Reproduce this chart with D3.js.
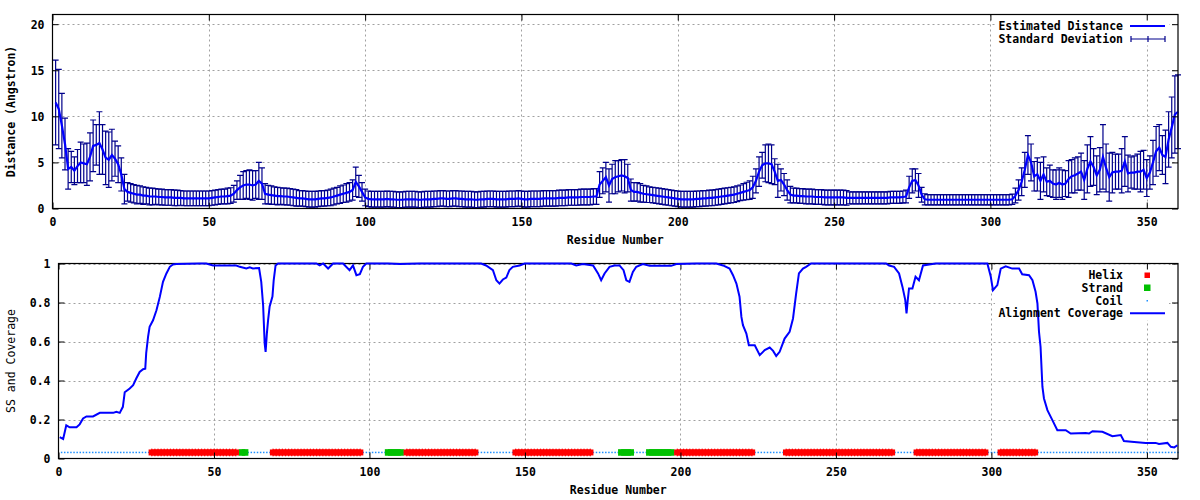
<!DOCTYPE html>
<html><head><meta charset="utf-8">
<script src="https://cdn.jsdelivr.net/npm/d3@7"></script>
<style>
body{margin:0;background:#fff}
svg{display:block}
text{font-family:"DejaVu Sans Mono","Liberation Mono",monospace;font-size:11.5px;font-weight:bold;fill:#000}
</style>
</head><body>
<svg id="c" width="1200" height="500"></svg>
<script>
// ---------- DATA ----------
const distance = [
11.5,10.8,9.0,7.0,4.3,4.5,4.1,4.6,5.0,4.9,
4.8,5.6,6.8,6.9,7.1,6.4,5.5,5.3,5.8,5.4,
4.8,3.7,2.1,1.8,1.7,1.6,1.5,1.5,1.4,1.4,
1.3,1.3,1.3,1.25,1.25,1.2,1.2,1.2,1.15,1.15,
1.15,1.1,1.1,1.1,1.1,1.1,1.1,1.1,1.1,1.1,
1.15,1.2,1.25,1.3,1.3,1.35,1.4,1.6,2.0,2.3,
2.5,2.6,2.6,2.5,2.6,3.0,2.7,1.6,1.5,1.45,
1.4,1.35,1.35,1.3,1.3,1.25,1.2,1.15,1.1,1.1,
1.05,1.0,1.0,1.0,1.05,1.1,1.1,1.15,1.2,1.3,
1.4,1.5,1.6,1.7,1.8,2.0,2.9,2.4,1.8,1.2,
1.05,1.0,1.0,1.0,1.0,1.0,1.05,1.0,1.0,0.95,
0.95,0.95,1.0,1.0,1.0,1.0,0.95,0.95,1.0,1.0,
1.0,1.05,1.05,1.1,1.1,1.05,1.05,1.1,1.1,1.05,
1.05,1.0,1.0,1.0,0.95,0.95,1.0,1.0,1.05,1.05,
1.05,1.0,1.0,1.0,1.0,1.05,1.05,1.05,1.1,1.05,
1.0,1.0,1.05,1.05,1.05,1.05,1.1,1.1,1.1,1.1,
1.1,1.15,1.15,1.15,1.2,1.2,1.2,1.2,1.25,1.25,
1.25,1.25,1.3,1.3,2.6,3.0,3.4,2.5,3.2,3.4,
3.5,3.6,3.5,3.3,2.0,1.8,1.8,1.7,1.6,1.55,
1.5,1.45,1.4,1.35,1.3,1.25,1.2,1.15,1.1,1.05,
1.0,1.0,1.0,1.0,1.0,1.05,1.05,1.1,1.1,1.15,
1.15,1.2,1.25,1.3,1.35,1.4,1.45,1.5,1.6,1.7,
1.8,1.9,2.0,2.3,3.0,4.0,4.7,4.9,4.9,4.8,
4.0,3.0,3.1,2.6,2.0,1.5,1.4,1.4,1.35,1.35,
1.3,1.3,1.3,1.25,1.25,1.25,1.2,1.2,1.2,1.2,
1.2,1.2,1.2,1.15,1.15,1.15,1.15,1.15,1.15,1.15,
1.15,1.15,1.15,1.15,1.15,1.15,1.15,1.2,1.2,1.2,
1.2,1.25,1.3,2.3,3.0,3.1,2.5,1.5,1.0,0.95,
0.95,0.95,0.95,0.95,0.95,0.95,0.95,0.95,0.95,0.95,
0.95,0.95,0.95,0.95,0.95,0.95,0.95,0.95,0.95,0.95,
0.95,0.95,0.95,0.95,0.95,0.95,1.0,1.4,2.0,2.9,
4.2,5.8,5.0,3.5,3.7,3.0,3.7,2.9,3.0,2.7,
2.6,2.8,2.6,2.7,3.2,3.5,3.6,3.8,4.0,3.1,
4.3,5.1,4.5,3.6,4.2,5.6,4.4,3.4,3.9,4.0,
4.0,4.1,5.1,3.8,3.9,3.9,4.0,4.0,4.2,3.3,
3.9,5.0,6.2,6.6,5.8,5.6,7.5,8.8,10.2,10.5
];
const stdDev = [
4.6,4.3,3.5,2.8,2.2,1.7,1.5,1.8,2.2,2.1,
2.3,2.6,2.8,2.2,3.4,2.7,2.9,3.0,2.8,1.9,
2.0,1.8,1.6,1.0,1.0,1.0,1.0,0.95,0.95,0.9,
0.9,0.9,0.85,0.85,0.85,0.85,0.85,0.85,0.85,0.85,
0.8,0.8,0.8,0.8,0.8,0.8,0.8,0.8,0.8,0.8,
0.8,0.8,0.8,0.8,0.8,0.85,0.85,0.9,1.0,1.3,
1.5,1.5,1.6,1.6,1.5,2.0,1.7,1.1,1.0,1.0,
0.95,0.95,0.9,0.9,0.9,0.9,0.9,0.9,0.85,0.85,
0.85,0.85,0.85,0.85,0.85,0.85,0.85,0.85,0.9,0.9,
0.9,0.95,0.95,1.0,1.0,1.1,1.6,1.2,1.0,0.9,
0.85,0.85,0.85,0.85,0.85,0.85,0.85,0.85,0.85,0.85,
0.85,0.85,0.85,0.85,0.85,0.85,0.85,0.85,0.85,0.85,
0.85,0.85,0.85,0.85,0.85,0.85,0.85,0.85,0.85,0.85,
0.85,0.85,0.85,0.85,0.85,0.85,0.85,0.85,0.85,0.85,
0.85,0.85,0.85,0.85,0.85,0.85,0.85,0.85,0.85,0.85,
0.85,0.85,0.85,0.85,0.85,0.85,0.85,0.85,0.85,0.85,
0.85,0.85,0.85,0.85,0.85,0.85,0.85,0.85,0.85,0.85,
0.85,0.85,0.85,0.85,1.4,1.4,1.6,1.8,1.6,1.8,
1.7,1.7,1.8,1.5,1.2,1.0,1.0,1.0,0.9,0.9,
0.85,0.85,0.85,0.85,0.85,0.85,0.85,0.85,0.85,0.85,
0.85,0.85,0.85,0.85,0.85,0.85,0.85,0.85,0.85,0.85,
0.85,0.85,0.85,0.85,0.85,0.85,0.85,0.85,0.85,0.85,
0.9,0.95,1.0,1.2,1.3,1.6,1.4,2.0,2.1,2.1,
1.4,1.8,1.2,1.2,1.1,0.9,0.8,0.8,0.8,0.8,
0.8,0.8,0.8,0.8,0.8,0.8,0.8,0.8,0.8,0.8,
0.8,0.8,0.8,0.8,0.65,0.65,0.65,0.65,0.65,0.65,
0.65,0.65,0.65,0.65,0.65,0.65,0.65,0.65,0.65,0.65,
0.65,0.65,0.7,1.2,1.3,1.2,1.3,0.8,0.6,0.55,
0.55,0.55,0.55,0.55,0.55,0.55,0.55,0.55,0.55,0.55,
0.55,0.55,0.55,0.55,0.55,0.55,0.55,0.55,0.55,0.55,
0.55,0.55,0.55,0.55,0.55,0.55,0.55,0.8,1.1,1.5,
1.9,2.1,2.0,1.6,1.8,2.0,1.9,1.5,1.7,1.5,
1.6,1.6,1.6,1.4,2.0,1.8,1.9,1.8,2.0,2.1,
2.6,2.7,2.0,2.1,2.4,3.5,2.6,2.6,2.2,1.9,
1.9,2.4,2.7,2.0,1.7,1.8,1.9,2.2,2.1,2.0,
1.8,2.4,2.7,2.5,2.1,2.9,3.0,3.3,4.2,4.0
];
const residues = distance.map((d, i) => i + 1);

// Alignment coverage, read at points along the curve
const covResidue = [0.4,1.5,2.5,3.6,5.8,6.8,7.9,9,11.1,13.3,17.6,18.6,19.7,20.7,21.3,22.9,24,25,26.1,27.2,27.9,28.2,28.8,29.3,30.4,31.5,32.6,33.6,34.7,35.8,36.8,37.9,45.4,47.5,49.7,57.2,58.3,60.4,61.5,62.5,64.5,65.2,65.8,66.3,66.6,67,67.4,67.9,68.8,69.2,69.8,70.6,82.9,84,85.1,86.7,88.3,91.5,93.6,94.7,95.8,96.9,97.9,99,105.9,109.8,116.1,135.9,137.5,139.7,140.8,141.8,142.9,144,145,146.1,148.3,149.9,164.9,166.5,168.6,171.9,173.5,174.5,175.6,177.2,178.8,180.4,181.7,182.6,183.6,184.7,185.8,187.9,190.1,197,198.7,205.1,211.5,213.7,215.8,216.9,218,219,219.6,220.1,221.2,222,223.9,225.5,227.1,228.7,229.8,230.8,231.9,233.5,235.1,236.2,237.2,238.1,239.4,240.4,242,266.1,267.1,268.7,270.3,271.4,272.3,272.7,273.1,273.5,274.6,275.6,276.7,278,281,282.1,298.7,299.8,300.5,301.9,303,304.6,306.7,308.9,309.9,312.1,313.2,314.2,314.8,315.3,315.8,316.4,316.9,318,319.6,321.2,323.9,325.5,330.3,331.4,332.5,335.7,338.9,341.6,342.6,345.9,349.6,352.8,353.9,356.6,357.7,358.8,359.8];
const covValue = [0.11,0.10,0.17,0.16,0.16,0.175,0.205,0.216,0.216,0.234,0.234,0.24,0.234,0.265,0.34,0.359,0.376,0.41,0.444,0.458,0.461,0.54,0.624,0.675,0.709,0.76,0.83,0.906,0.949,0.983,0.995,0.997,1.0,1.0,0.99,0.99,0.983,0.975,0.98,0.975,0.977,0.906,0.786,0.59,0.547,0.64,0.71,0.78,0.83,0.914,0.99,1.0,1.0,0.99,1.0,0.974,1.0,1.0,0.966,0.99,0.94,0.945,0.983,1.0,1.0,0.997,1.0,1.0,0.99,0.966,0.914,0.897,0.918,0.928,0.966,0.983,0.99,1.0,1.0,0.99,0.997,0.99,0.949,0.914,0.949,0.983,0.99,0.99,0.966,0.914,0.906,0.957,0.983,0.997,0.988,0.988,0.997,1.0,1.0,0.99,0.974,0.94,0.897,0.83,0.726,0.684,0.641,0.581,0.581,0.53,0.556,0.569,0.552,0.526,0.547,0.615,0.65,0.718,0.846,0.949,0.974,0.983,1.0,1.0,0.99,0.983,0.949,0.88,0.812,0.744,0.812,0.872,0.872,0.932,0.914,0.99,0.997,1.0,1.0,0.932,0.863,0.889,0.974,0.986,0.974,0.974,0.945,0.94,0.914,0.855,0.795,0.65,0.573,0.368,0.308,0.248,0.197,0.145,0.145,0.128,0.131,0.128,0.14,0.137,0.114,0.12,0.09,0.085,0.08,0.08,0.074,0.08,0.06,0.057,0.068];

// Secondary structure segments (first/last residue)
const helixStart  = [30, 69, 112, 147, 199, 234, 276, 303];
const helixEnd    = [57, 97, 134, 171, 223, 268, 298, 314];
const strandStart = [59, 106, 181, 190];
const strandEnd   = [60, 110, 184, 197];
const ssLevel = 0.031;

const xTicks = [0, 50, 100, 150, 200, 250, 300, 350];
const yTicksTop = [0, 5, 10, 15, 20];
const yTicksBottom = [0, 0.2, 0.4, 0.6, 0.8, 1];

// ---------- DRAW ----------
const svg = d3.select("#c");
const GRID = "#a0a0a0";
const LINE_BLUE = "#0000ff";
const ERR_BLUE = "#00008b";

function frame(P, x, y, yt, yfmt, ytitle, ytitleBold) {
  const g = svg.append("g");
  // grid
  g.append("g").selectAll("line").data(xTicks.filter(d => d > 0)).join("line")
    .attr("x1", d => Math.round(x(d)) + 0.5).attr("x2", d => Math.round(x(d)) + 0.5)
    .attr("y1", P.t).attr("y2", P.b)
    .attr("stroke", GRID).attr("stroke-dasharray", "2,3");
  g.append("g").selectAll("line").data(yt.filter(d => d > 0)).join("line")
    .attr("y1", d => Math.round(y(d)) + 0.5).attr("y2", d => Math.round(y(d)) + 0.5)
    .attr("x1", P.l).attr("x2", P.r)
    .attr("stroke", GRID).attr("stroke-dasharray", "2,3");
  return g;
}

function axes(P, x, y, yt, yfmt, labelGap) {
  const g = svg.append("g");
  const bx = g.append("g").attr("transform", `translate(0,${P.b})`)
    .call(d3.axisBottom(x).tickValues(xTicks).tickSize(-6).tickSizeOuter(0).tickFormat(d3.format("d")));
  bx.select(".domain").remove();
  bx.selectAll("text").attr("y", 13.5).attr("dy", "0.35em")
    .style("font-family", '"DejaVu Sans Mono",monospace').style("font-size", "11.5px").style("font-weight", "bold");
  const tx = g.append("g").attr("transform", `translate(0,${P.t})`)
    .call(d3.axisTop(x).tickValues(xTicks).tickSize(-6).tickSizeOuter(0).tickFormat(""));
  tx.select(".domain").remove();
  const ly = g.append("g").attr("transform", `translate(${P.l},0)`)
    .call(d3.axisLeft(y).tickValues(yt).tickSize(-6).tickSizeOuter(0).tickFormat(yfmt));
  ly.select(".domain").remove();
  ly.selectAll("text").attr("x", -labelGap).attr("dy", "0.35em")
    .style("font-family", '"DejaVu Sans Mono",monospace').style("font-size", "11.5px").style("font-weight", "bold");
  const ry = g.append("g").attr("transform", `translate(${P.r},0)`)
    .call(d3.axisRight(y).tickValues(yt).tickSize(-6).tickSizeOuter(0).tickFormat(""));
  ry.select(".domain").remove();
  g.selectAll(".tick line").attr("stroke", "#000");
  g.append("rect").attr("x", P.l).attr("y", P.t).attr("width", P.r - P.l).attr("height", P.b - P.t)
    .attr("fill", "none").attr("stroke", "#000").attr("stroke-width", 1.2);
}

// ===== TOP CHART =====
const T = {l: 52.5, r: 1178, t: 14.5, b: 208.5};
const x1 = d3.scaleLinear().domain([0, 360]).range([T.l, T.r]);
const y1 = d3.scaleLinear().domain([0, 21.05]).range([T.b, T.t]);
frame(T, x1, y1, yTicksTop);
// legend background
svg.append("rect").attr("x", 995).attr("y", T.t + 1).attr("width", 174).attr("height", 30).attr("fill", "#fff");

// error bars
const eb = svg.append("g").attr("stroke", ERR_BLUE).attr("stroke-width", 1.2).attr("fill", "none");
eb.selectAll("path").data(residues).join("path")
  .attr("d", (r, i) => {
    const xx = x1(r), yt = y1(distance[i] + stdDev[i]), yb = y1(Math.max(0, distance[i] - stdDev[i]));
    return `M${xx},${yt}V${yb}M${xx - 3},${yt}H${xx + 3}M${xx - 3},${yb}H${xx + 3}`;
  });
// distance line
svg.append("path").datum(residues)
  .attr("d", d3.line().x(r => x1(r)).y((r, i) => y1(distance[i])))
  .attr("fill", "none").attr("stroke", LINE_BLUE).attr("stroke-width", 2.2);

axes(T, x1, y1, yTicksTop, d3.format("d"), 8);

svg.append("text").attr("x", (T.l + T.r) / 2).attr("y", 240).attr("dy", "0.35em")
  .attr("text-anchor", "middle").text("Residue Number");
svg.append("text").attr("transform", `translate(11,${(T.t + T.b) / 2}) rotate(-90)`)
  .attr("dy", "0.35em").attr("text-anchor", "middle").text("Distance (Angstron)");

// top legend
const lg1 = svg.append("g");
lg1.append("text").attr("x", 1123).attr("y", 26).attr("dy", "0.35em").attr("text-anchor", "end").text("Estimated Distance");
lg1.append("line").attr("x1", 1130).attr("x2", 1165).attr("y1", 26).attr("y2", 26)
  .attr("stroke", LINE_BLUE).attr("stroke-width", 2.2);
lg1.append("text").attr("x", 1123).attr("y", 39).attr("dy", "0.35em").attr("text-anchor", "end").text("Standard Deviation");
lg1.append("path").attr("d", "M1131,39H1165M1131,36V42M1165,36V42M1148,36V42")
  .attr("stroke", ERR_BLUE).attr("stroke-width", 1.2).attr("fill", "none");

// ===== BOTTOM CHART =====
const B = {l: 58.5, r: 1178, t: 263.5, b: 458.5};
const x2 = d3.scaleLinear().domain([0, 360]).range([B.l, B.r]);
const y2 = d3.scaleLinear().domain([0, 1]).range([B.b, B.t]);
frame(B, x2, y2, yTicksBottom);
svg.append("rect").attr("x", 995).attr("y", B.t + 1).attr("width", 174).attr("height", 56).attr("fill", "#fff");

// secondary structure
const helixRes = [], strandRes = [];
helixStart.forEach((s, k) => { for (let r = s; r <= helixEnd[k]; r++) helixRes.push(r); });
strandStart.forEach((s, k) => { for (let r = s; r <= strandEnd[k]; r++) strandRes.push(r); });
const ssSet = new Set(helixRes.concat(strandRes));
const coilRes = d3.range(1, 361).filter(r => !ssSet.has(r));
const ySS = y2(ssLevel);

svg.append("g").selectAll("rect").data(coilRes).join("rect")
  .attr("x", r => x2(r) - 0.75).attr("y", ySS - 0.75).attr("width", 1.5).attr("height", 1.5)
  .attr("fill", "#1e90ff");
svg.append("g").selectAll("rect").data(strandRes).join("rect")
  .attr("x", r => x2(r) - 3.3).attr("y", ySS - 3.3).attr("width", 6.6).attr("height", 6.6)
  .attr("fill", "#00c000");
const hg = svg.append("g");
hg.selectAll("rect.h").data(helixRes).join("rect").attr("class", "h")
  .attr("x", r => x2(r) - 3.2).attr("y", ySS - 3.0).attr("width", 6.4).attr("height", 6.0)
  .attr("fill", "#ff0000");
hg.selectAll("rect.e").data(helixRes).join("rect").attr("class", "e")
  .attr("x", r => x2(r) - 0.6).attr("y", ySS - 3.8).attr("width", 1.2).attr("height", 7.6)
  .attr("fill", "#ff0000");

axes(B, x2, y2, yTicksBottom, d => String(d), 8);

// coverage line
svg.append("path").datum(covResidue)
  .attr("d", d3.line().x(r => x2(r)).y((r, i) => y2(covValue[i])))
  .attr("fill", "none").attr("stroke", LINE_BLUE).attr("stroke-width", 2);

svg.append("text").attr("x", (B.l + B.r) / 2).attr("y", 490).attr("dy", "0.35em")
  .attr("text-anchor", "middle").text("Residue Number");
svg.append("text").attr("transform", `translate(11,${(B.t + B.b) / 2}) rotate(-90)`)
  .attr("dy", "0.35em").attr("text-anchor", "middle").style("font-weight", "normal").text("SS and Coverage");

// bottom legend
const lg2 = svg.append("g");
const rows = [["Helix", 275], ["Strand", 287.7], ["Coil", 300.7], ["Alignment Coverage", 313.3]];
rows.forEach(([t, yy]) => lg2.append("text").attr("x", 1123).attr("y", yy).attr("dy", "0.35em").attr("text-anchor", "end").text(t));
lg2.append("rect").attr("x", 1144.5).attr("y", 272.5).attr("width", 5.5).attr("height", 5.5).attr("fill", "#ff0000");
lg2.append("rect").attr("x", 1144).attr("y", 284.5).attr("width", 6.5).attr("height", 6.5).attr("fill", "#00c000");
lg2.append("rect").attr("x", 1146.5).attr("y", 300).attr("width", 1.5).attr("height", 1.5).attr("fill", "#1e90ff");
lg2.append("line").attr("x1", 1130).attr("x2", 1165).attr("y1", 313.3).attr("y2", 313.3)
  .attr("stroke", LINE_BLUE).attr("stroke-width", 2);
</script>
</body></html>
